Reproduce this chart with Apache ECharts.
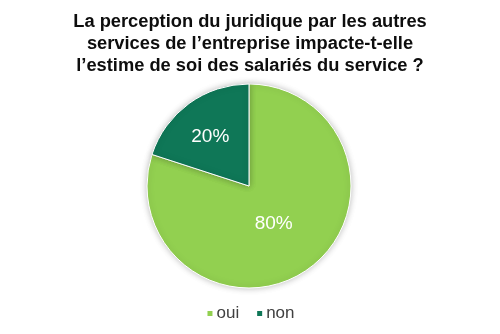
<!DOCTYPE html>
<html>
<head>
<meta charset="utf-8">
<script src="https://cdn.jsdelivr.net/npm/echarts@6/dist/echarts.min.js"></script>
<style>
  html, body { margin: 0; padding: 0; background: #fff; }
  #chart { width: 500px; height: 334px; }
</style>
</head>
<body>
<div id="chart"></div>
<script>
// Survey answers (share of respondents, %)
const categories = ['oui', 'non'];
const shares = [80, 20];
const sliceColors = ['#92d050', '#0f7757'];

const titleText = 'La perception du juridique par les autres\nservices de l\u2019entreprise impacte-t-elle\nl\u2019estime de soi des salariés du service ?';

const chart = echarts.init(document.getElementById('chart'), null, { renderer: 'canvas' });

chart.setOption({
  animation: false,
  backgroundColor: '#ffffff',
  title: {
    text: titleText,
    left: 'center',
    top: 6,
    textStyle: {
      fontFamily: 'Liberation Sans, Arial, sans-serif',
      fontSize: 18.3,
      fontWeight: 'bold',
      color: '#0d0d0d',
      lineHeight: 22
    }
  },
  legend: {
    data: categories,
    bottom: 7,
    left: 'center',
    icon: 'rect',
    itemWidth: 7,
    itemHeight: 7,
    itemGap: 16,
    textStyle: {
      fontFamily: 'Liberation Sans, Arial, sans-serif',
      fontSize: 17,
      color: '#404040',
      padding: [2, 0, 0, -2]
    }
  },
  series: [{
    type: 'pie',
    center: [249, 186],
    radius: 102,
    startAngle: 90,
    clockwise: true,
    color: sliceColors,
    itemStyle: {
      borderColor: '#ffffff',
      borderWidth: 1,
      shadowBlur: 6,
      shadowColor: 'rgba(0,0,0,0.25)'
    },
    label: {
      show: true,
      position: 'inside',
      formatter: '{c}%',
      offset: [-7, -6],
      color: '#ffffff',
      fontFamily: 'Liberation Sans, Arial, sans-serif',
      fontSize: 19
    },
    labelLine: { show: false },
    emphasis: { disabled: true },
    data: categories.map((name, i) => ({ name: name, value: shares[i] }))
  }]
});
</script>
</body>
</html>
